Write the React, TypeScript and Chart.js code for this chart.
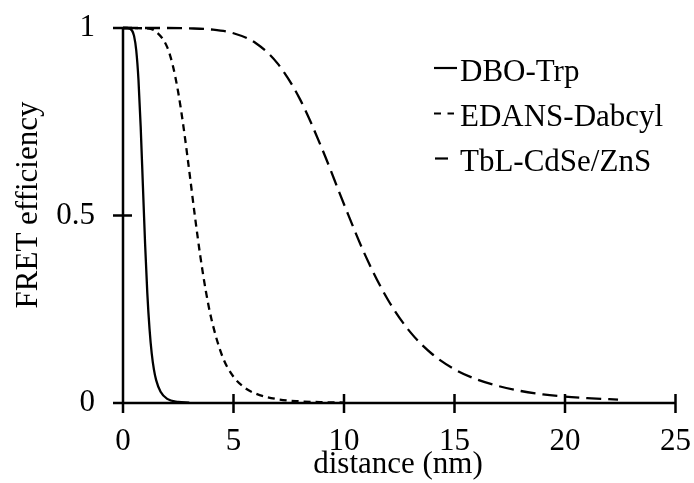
import React, { useEffect, useRef } from "react";
import { Chart, registerables } from "chart.js";

Chart.register(...registerables);

// distance (nm) and FRET efficiency
const dboX = [0, 0.2, 0.4, 0.5, 0.6, 0.7, 0.8, 0.9, 1.0, 1.1, 1.2, 1.3, 1.4, 1.5, 1.7, 2.0, 2.5, 3.0];
const dboY = [1, 1, 0.994, 0.979, 0.94, 0.862, 0.737, 0.58, 0.424, 0.293, 0.198, 0.132, 0.089, 0.061, 0.03, 0.011, 0.003, 0.001];

const edansX = [0, 1, 1.5, 2, 2.25, 2.5, 2.75, 3, 3.25, 3.5, 3.75, 4, 4.5, 5, 5.5, 6, 7, 8, 9, 10];
const edansY = [1, 0.999, 0.99, 0.949, 0.901, 0.828, 0.731, 0.618, 0.5, 0.391, 0.298, 0.224, 0.124, 0.07, 0.041, 0.025, 0.01, 0.0045, 0.0022, 0.0012];

const tblX = [0, 1, 2, 3, 4, 5, 6, 7, 8, 9, 10, 11, 12, 13, 14, 15, 16, 17, 18, 19, 20, 21, 22.4];
const tblY = [1, 1, 1, 0.999, 0.996, 0.986, 0.96, 0.905, 0.811, 0.679, 0.53, 0.389, 0.274, 0.189, 0.13, 0.09, 0.063, 0.045, 0.032, 0.023, 0.017, 0.013, 0.009];

const seriesLabels = ["DBO-Trp", "EDANS-Dabcyl", "TbL-CdSe/ZnS"];
const xTicks = [0, 5, 10, 15, 20, 25];
const yTicks = [0, 0.5, 1];
const xTitle = "distance (nm)";
const yTitle = "FRET efficiency";

const FONT = "'Liberation Serif', 'Times New Roman', serif";
const FS = 31;

const toPts = (xs: number[], ys: number[]) => xs.map((x, i) => ({ x, y: ys[i] }));

const zeroPad = (s: any) => {
  s.paddingTop = 0;
  s.paddingBottom = 0;
  s.paddingLeft = 0;
  s.paddingRight = 0;
};

const axesPlugin = {
  id: "customAxes",
  beforeDatasetsDraw(chart: any) {
    const { ctx, scales } = chart;
    const xs = scales.x;
    const ys = scales.y;
    const x0 = xs.getPixelForValue(0);
    const x1 = xs.getPixelForValue(25);
    const y0 = ys.getPixelForValue(0);
    const y1 = ys.getPixelForValue(1);
    ctx.save();
    ctx.strokeStyle = "#000";
    ctx.lineWidth = 2.5;
    ctx.lineCap = "butt";
    ctx.beginPath();
    ctx.moveTo(x0, y0);
    ctx.lineTo(x1, y0);
    ctx.moveTo(x0, y0);
    ctx.lineTo(x0, y1);
    xs.ticks.forEach((t: any) => {
      const p = xs.getPixelForValue(t.value);
      ctx.moveTo(p, y0 - 9);
      ctx.lineTo(p, y0 + 10);
    });
    ys.ticks.forEach((t: any) => {
      const p = ys.getPixelForValue(t.value);
      ctx.moveTo(x0 - 10, p);
      ctx.lineTo(x0 + 9, p);
    });
    ctx.stroke();
    ctx.restore();
  },
  afterDraw(chart: any) {
    const { ctx } = chart;
    ctx.save();
    ctx.fillStyle = "#000";
    ctx.font = `${FS}px ${FONT}`;
    ctx.textAlign = "center";
    ctx.textBaseline = "alphabetic";
    ctx.fillText(xTitle, 398, 473);
    ctx.save();
    ctx.translate(37, 205);
    ctx.rotate(-Math.PI / 2);
    ctx.fillText(yTitle, 0, 0);
    ctx.restore();
    const rows = [80.5, 126, 171];
    chart.data.datasets.forEach((ds: any, i: number) => {
      const by = rows[i];
      const ly = by - 12.5;
      ctx.save();
      ctx.strokeStyle = "#000";
      ctx.lineWidth = 2.2;
      ctx.beginPath();
      if (i === 0) {
        ctx.moveTo(434, ly);
        ctx.lineTo(457, ly);
      } else if (i === 1) {
        ctx.moveTo(434, ly);
        ctx.lineTo(441, ly);
        ctx.moveTo(447.5, ly);
        ctx.lineTo(454, ly);
      } else {
        ctx.moveTo(435, ly);
        ctx.lineTo(448, ly);
      }
      ctx.stroke();
      ctx.restore();
      ctx.textAlign = "left";
      ctx.fillText(ds.label, 460, by);
    });
    ctx.restore();
  },
};

export default function App() {
  const ref = useRef<HTMLCanvasElement | null>(null);
  useEffect(() => {
    if (!ref.current) return;
    const chart = new Chart(ref.current, {
      type: "line",
      data: {
        datasets: [
          {
            label: seriesLabels[0],
            data: toPts(dboX, dboY),
            borderColor: "#000",
            borderWidth: 2.3,
            pointRadius: 0,
            cubicInterpolationMode: "monotone",
            fill: false,
            clip: 6,
          },
          {
            label: seriesLabels[1],
            data: toPts(edansX, edansY),
            borderColor: "#000",
            borderWidth: 2.3,
            borderDash: [7, 5],
            pointRadius: 0,
            cubicInterpolationMode: "monotone",
            fill: false,
            clip: 6,
          },
          {
            label: seriesLabels[2],
            data: toPts(tblX, tblY),
            borderColor: "#000",
            borderWidth: 2.3,
            borderDash: [15, 7],
            pointRadius: 0,
            cubicInterpolationMode: "monotone",
            fill: false,
            clip: 6,
          },
        ],
      },
      options: {
        responsive: false,
        animation: false,
        events: [],
        layout: { padding: { left: 0, right: 18.5, top: 28, bottom: 0 } },
        plugins: {
          legend: { display: false },
          tooltip: { enabled: false },
          title: { display: false },
        },
        scales: {
          x: {
            type: "linear",
            min: 0,
            max: 25,
            afterBuildTicks: (s: any) => {
              s.ticks = xTicks.map((v) => ({ value: v }));
            },
            afterFit: (s: any) => {
              s.height = 80;
              zeroPad(s);
            },
            grid: { display: false, drawTicks: false },
            border: { display: false },
            ticks: {
              color: "#000",
              font: { family: FONT, size: FS },
              padding: 20,
              maxRotation: 0,
              autoSkip: false,
            },
          },
          y: {
            type: "linear",
            min: 0,
            max: 1,
            afterBuildTicks: (s: any) => {
              s.ticks = yTicks.map((v) => ({ value: v }));
            },
            afterFit: (s: any) => {
              s.width = 123;
              zeroPad(s);
            },
            grid: { display: false, drawTicks: false },
            border: { display: false },
            ticks: {
              color: "#000",
              font: { family: FONT, size: FS },
              padding: 28,
              autoSkip: false,
              callback: (v: any) => String(v),
            },
          },
        },
      },
      plugins: [axesPlugin],
    } as any);
    return () => chart.destroy();
  }, []);
  return (
    <div style={{ position: "fixed", left: 0, top: 0, width: 694, height: 483, background: "#fff" }}>
      <canvas ref={ref} width={694} height={483} style={{ display: "block" }} />
    </div>
  );
}
